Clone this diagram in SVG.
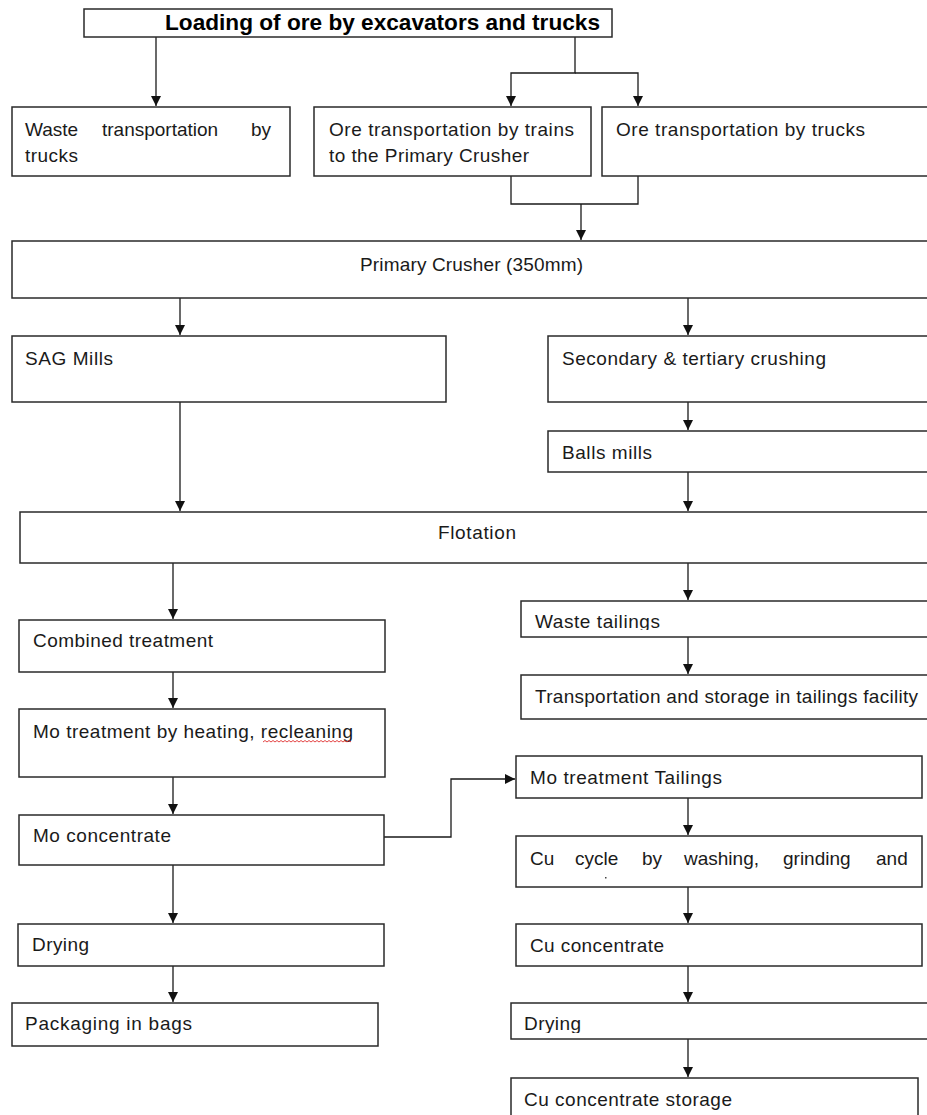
<svg xmlns="http://www.w3.org/2000/svg" width="927" height="1115" viewBox="0 0 927 1115">
<style>
.b{fill:#fff;stroke:#2a2a2a;stroke-width:1.5}
.t{font-family:"Liberation Sans",Arial,sans-serif;font-size:19px;fill:#1a1a1a}
.tb{font-family:"Liberation Sans",Arial,sans-serif;font-size:22px;font-weight:bold;fill:#000}
.c{fill:none;stroke:#1a1a1a;stroke-width:1.3}
</style>
<defs>
<marker id="ah" viewBox="0 0 10 10" refX="10" refY="5" markerWidth="10" markerHeight="11" markerUnits="userSpaceOnUse" orient="auto">
<path d="M0,0 L10,5 L0,10 z" fill="#111"/>
</marker>
<clipPath id="cpWT"><rect x="521" y="601" width="420" height="29"/></clipPath>
<clipPath id="cpDR"><rect x="511" y="1003" width="420" height="30"/></clipPath>
</defs>
<rect width="927" height="1115" fill="#fff"/>

<g id="connectors">
<path class="c" d="M156,37 V106" marker-end="url(#ah)"/>
<path class="c" d="M575,37 V73 H511 V106" marker-end="url(#ah)"/>
<path class="c" d="M575,73 H638 V106" marker-end="url(#ah)"/>
<path class="c" d="M511,168 V204 H638 V168"/>
<path class="c" d="M581,204 V240" marker-end="url(#ah)"/>
<path class="c" d="M180,298 V335" marker-end="url(#ah)"/>
<path class="c" d="M688,298 V335" marker-end="url(#ah)"/>
<path class="c" d="M688,402 V430" marker-end="url(#ah)"/>
<path class="c" d="M180,402 V511" marker-end="url(#ah)"/>
<path class="c" d="M688,472 V511" marker-end="url(#ah)"/>
<path class="c" d="M173,563 V619" marker-end="url(#ah)"/>
<path class="c" d="M688,563 V600" marker-end="url(#ah)"/>
<path class="c" d="M688,637 V674" marker-end="url(#ah)"/>
<path class="c" d="M173,672 V708" marker-end="url(#ah)"/>
<path class="c" d="M173,777 V814" marker-end="url(#ah)"/>
<path class="c" d="M384,837 H451 V779 H515" marker-end="url(#ah)"/>
<path class="c" d="M688,798 V835" marker-end="url(#ah)"/>
<path class="c" d="M688,887 V923" marker-end="url(#ah)"/>
<path class="c" d="M688,966 V1002" marker-end="url(#ah)"/>
<path class="c" d="M688,1039 V1077" marker-end="url(#ah)"/>
<path class="c" d="M173,865 V923" marker-end="url(#ah)"/>
<path class="c" d="M173,966 V1002" marker-end="url(#ah)"/>
</g>

<g id="n-loading">
<rect class="b" x="84" y="9" width="528" height="28"/>
<text class="tb" x="165" y="30" textLength="435" lengthAdjust="spacingAndGlyphs">Loading of ore by excavators and trucks</text>
</g>
<g id="n-waste-trucks">
<rect class="b" x="12" y="107" width="278" height="69"/>
<text class="t" y="136"><tspan x="25">Waste</tspan><tspan x="102">transportation</tspan><tspan x="251">by</tspan></text>
<text class="t" x="25" y="162" textLength="53">trucks</text>
</g>
<g id="n-ore-trains">
<rect class="b" x="314" y="107" width="277" height="69"/>
<text class="t" x="329" y="136" textLength="245">Ore transportation by trains</text>
<text class="t" x="329" y="162" textLength="200">to the Primary Crusher</text>
</g>
<g id="n-ore-trucks">
<rect class="b" x="602" y="107" width="340" height="69"/>
<text class="t" x="616" y="136" textLength="249">Ore transportation by trucks</text>
</g>
<g id="n-primary">
<rect class="b" x="12" y="241" width="930" height="57"/>
<text class="t" x="360" y="271" textLength="223">Primary Crusher (350mm)</text>
</g>
<g id="n-sag">
<rect class="b" x="12" y="336" width="434" height="66"/>
<text class="t" x="25" y="365" textLength="88">SAG Mills</text>
</g>
<g id="n-secondary">
<rect class="b" x="548" y="336" width="394" height="66"/>
<text class="t" x="562" y="365" textLength="264">Secondary &amp; tertiary crushing</text>
</g>
<g id="n-balls">
<rect class="b" x="548" y="431" width="394" height="41"/>
<text class="t" x="562" y="459" textLength="90">Balls mills</text>
</g>
<g id="n-flotation">
<rect class="b" x="20" y="512" width="922" height="51"/>
<text class="t" x="438" y="539" textLength="78">Flotation</text>
</g>
<g id="n-combined">
<rect class="b" x="19" y="620" width="366" height="52"/>
<text class="t" x="33" y="647" textLength="180">Combined treatment</text>
</g>
<g id="n-waste-tailings">
<rect class="b" x="521" y="601" width="420" height="36"/>
<text class="t" x="535" y="628" textLength="125" clip-path="url(#cpWT)">Waste tailings</text>
</g>
<g id="n-transport-storage">
<rect class="b" x="521" y="675" width="420" height="44"/>
<text class="t" x="535" y="703" textLength="383">Transportation and storage in tailings facility</text>
</g>
<g id="n-mo-heating">
<rect class="b" x="19" y="709" width="366" height="68"/>
<text class="t" x="33" y="738" textLength="320">Mo treatment by heating, recleaning</text>
<path d="M263,742 l2,-1.5 l2,1.5 l2,-1.5 l2,1.5 l2,-1.5 l2,1.5 l2,-1.5 l2,1.5 l2,-1.5 l2,1.5 l2,-1.5 l2,1.5 l2,-1.5 l2,1.5 l2,-1.5 l2,1.5 l2,-1.5 l2,1.5 l2,-1.5 l2,1.5 l2,-1.5 l2,1.5 l2,-1.5 l2,1.5 l2,-1.5 l2,1.5 l2,-1.5 l2,1.5 l2,-1.5 l2,1.5 l2,-1.5 l2,1.5 l2,-1.5 l2,1.5 l2,-1.5 l2,1.5 l2,-1.5 l2,1.5 l2,-1.5 l2,1.5 l2,-1.5 l2,1.5 l2,-1.5 l2,1.5" fill="none" stroke="#e03030" stroke-width="0.9"/>
</g>
<g id="n-mo-concentrate">
<rect class="b" x="19" y="815" width="365" height="50"/>
<text class="t" x="33" y="842" textLength="138">Mo concentrate</text>
</g>
<g id="n-mo-tailings">
<rect class="b" x="516" y="756" width="406" height="42"/>
<text class="t" x="530" y="784" textLength="192">Mo treatment Tailings</text>
</g>
<g id="n-cu-cycle">
<rect class="b" x="516" y="836" width="406" height="51"/>
<text class="t" y="865"><tspan x="530">Cu</tspan><tspan x="575">cycle</tspan><tspan x="642">by</tspan><tspan x="684">washing,</tspan><tspan x="783">grinding</tspan><tspan x="876">and</tspan></text>
<rect x="605" y="877" width="1.5" height="1.5" fill="#444"/>
</g>
<g id="n-cu-concentrate">
<rect class="b" x="516" y="924" width="406" height="42"/>
<text class="t" x="530" y="952" textLength="134">Cu concentrate</text>
</g>
<g id="n-drying-right">
<rect class="b" x="511" y="1003" width="430" height="36"/>
<text class="t" x="524" y="1030" textLength="57" clip-path="url(#cpDR)">Drying</text>
</g>
<g id="n-cu-storage">
<rect class="b" x="511" y="1078" width="407" height="50"/>
<text class="t" x="524" y="1106" textLength="208">Cu concentrate storage</text>
</g>
<g id="n-drying-left">
<rect class="b" x="18" y="924" width="366" height="42"/>
<text class="t" x="32" y="951" textLength="57">Drying</text>
</g>
<g id="n-packaging">
<rect class="b" x="12" y="1003" width="366" height="43"/>
<text class="t" x="25" y="1030" textLength="167">Packaging in bags</text>
</g>
</svg>
